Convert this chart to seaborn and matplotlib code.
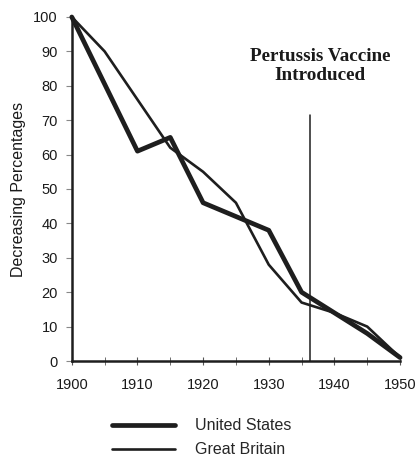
import pandas as pd
import matplotlib.pyplot as plt
import seaborn as sns

# values
us_years = [1900, 1910, 1915, 1920, 1930, 1935, 1940, 1945, 1950]
us_vals = [100, 61, 65, 46, 38, 20, 14, 8, 1]
gb_years = [1900, 1905, 1915, 1920, 1925, 1930, 1935, 1940, 1945, 1950]
gb_vals = [100, 90, 62, 55, 46, 28, 17, 14, 10, 1]
vaccine_year = 1936.3
vaccine_top = 71.5

us = pd.DataFrame({'year': us_years, 'pct': us_vals})
gb = pd.DataFrame({'year': gb_years, 'pct': gb_vals})

sns.set_style('ticks')
plt.rcParams['font.family'] = ['Liberation Sans', 'DejaVu Sans']

fig = plt.figure(figsize=(4.15, 4.59), dpi=100)
ax = fig.add_axes([0.173, 0.2135, 0.791, 0.7495])

line_col = '#1e1e1e'
sns.lineplot(data=us, x='year', y='pct', ax=ax, color=line_col, linewidth=3.4,
             label='United States', clip_on=False)
sns.lineplot(data=gb, x='year', y='pct', ax=ax, color=line_col, linewidth=1.9,
             label='Great Britain', clip_on=False)
ax.plot([vaccine_year, vaccine_year], [0, vaccine_top], color=line_col, linewidth=1.1)

ax.text(1937.8, 85.8, 'Pertussis Vaccine\nIntroduced', ha='center', va='center',
        fontsize=13.8, fontweight='bold', family='Liberation Serif',
        linespacing=1.2, color='#1a1a1a')

ax.set_xlim(1900, 1950)
ax.set_ylim(0, 100)
ax.set_xticks(range(1900, 1951, 10))
ax.set_xticks(range(1905, 1950, 10), minor=True)
ax.set_yticks(range(0, 101, 10))
ax.tick_params(axis='both', labelsize=10.5, colors='#1a1a1a')
ax.tick_params(axis='y', length=4, pad=6, color='#888888')
ax.tick_params(axis='x', which='both', direction='inout', length=6, pad=9, color='#555555')
ax.set_xlabel('')
ax.set_ylabel('Decreasing Percentages', fontsize=11.5, labelpad=5, color='#1a1a1a')
sns.despine(ax=ax)
for s in ['left', 'bottom']:
    ax.spines[s].set_linewidth(1.8)
    ax.spines[s].set_color('#1e1e1e')

ax.legend(loc='upper left', bbox_to_anchor=(0.08, -0.125), frameon=False,
          fontsize=11.5, handlelength=3.9, handletextpad=1.3, labelspacing=0.55)

plt.savefig('out.png', dpi=100)
